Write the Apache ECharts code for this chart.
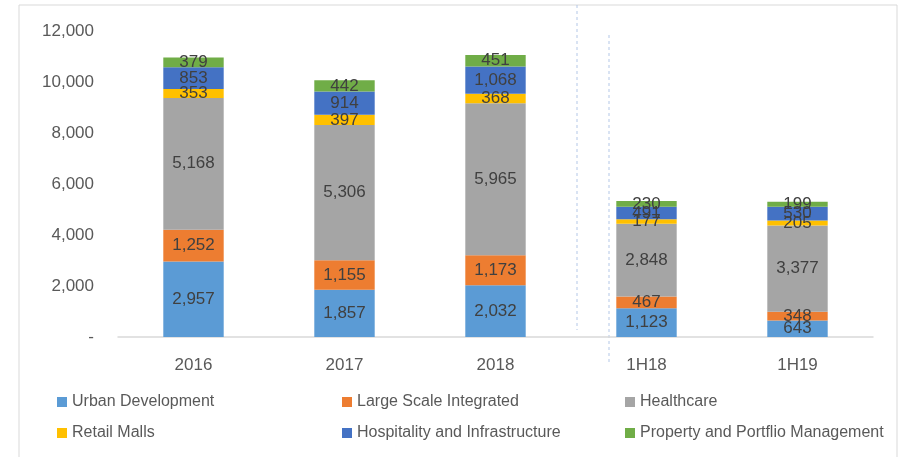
<!DOCTYPE html>
<html>
<head>
<meta charset="utf-8">
<script src="https://cdn.jsdelivr.net/npm/echarts@6/dist/echarts.min.js"></script>
<style>
  html, body { margin: 0; padding: 0; background: #fff; }
  #chart { width: 911px; height: 457px; }
</style>
</head>
<body>
<div id="chart"></div>
<script>
const categories = ['2016', '2017', '2018', '1H18', '1H19']
const urbanDevelopment = [2957, 1857, 2032, 1123, 643]
const largeScaleIntegrated = [1252, 1155, 1173, 467, 348]
const healthcare = [5168, 5306, 5965, 2848, 3377]
const retailMalls = [353, 397, 368, 177, 205]
const hospitality = [853, 914, 1068, 491, 530]
const propertyMgmt = [379, 442, 451, 230, 199]
const yTicks = [0, 2000, 4000, 6000, 8000, 10000, 12000]

const fontFamily = 'Liberation Sans, sans-serif'
const fmt = (v) => v === 0 ? '-' : v.toLocaleString('en-US')

function makeSeries(name, data, color) {
  return {
    name,
    type: 'bar',
    stack: 'total',
    data,
    barWidth: '40%',
    itemStyle: { color },
    label: {
      show: true,
      position: 'inside',
      color: '#404040',
      fontSize: 17,
      fontFamily,
      formatter: (p) => fmt(p.value)
    }
  }
}

const chart = echarts.init(document.getElementById('chart'), null, { renderer: 'canvas' })

const legendBase = {
  orient: 'vertical',
  top: 389,
  itemWidth: 10,
  itemHeight: 10,
  itemGap: 15,
  icon: 'rect',
  textStyle: { color: '#595959', fontSize: 16, fontFamily }
}

chart.setOption({
  animation: false,
  grid: { left: 118, right: 38, top: 31, bottom: 120 },
  legend: [
    { ...legendBase, left: 52, data: ['Urban Development', 'Retail Malls'] },
    { ...legendBase, left: 337, data: ['Large Scale Integrated', 'Hospitality and Infrastructure'] },
    { ...legendBase, left: 620, data: ['Healthcare', 'Property and Portflio Management'] }
  ],
  xAxis: {
    type: 'category',
    data: categories,
    axisLine: { lineStyle: { color: '#d9d9d9', width: 1.5 } },
    axisTick: { show: false },
    axisLabel: { color: '#595959', fontSize: 17, fontFamily, margin: 20 }
  },
  yAxis: {
    type: 'value',
    min: yTicks[0],
    max: yTicks[yTicks.length - 1],
    interval: 2000,
    splitLine: { show: false },
    axisLine: { show: false },
    axisTick: { show: false },
    axisLabel: { color: '#595959', fontSize: 17, fontFamily, margin: 24, formatter: fmt }
  },
  graphic: [
    {
      type: 'rect',
      shape: { x: 19, y: 5, width: 878, height: 470 },
      style: { fill: 'none', stroke: '#d9d9d9', lineWidth: 1 },
      silent: true
    },
    {
      type: 'line',
      shape: { x1: 577, y1: 5, x2: 577, y2: 330 },
      style: { stroke: '#b4c7e7', lineWidth: 1, lineDash: [3, 3] },
      silent: true
    },
    {
      type: 'line',
      shape: { x1: 609, y1: 35, x2: 609, y2: 362 },
      style: { stroke: '#b4c7e7', lineWidth: 1, lineDash: [3, 3] },
      silent: true
    }
  ],
  series: [
    makeSeries('Urban Development', urbanDevelopment, '#5b9bd5'),
    makeSeries('Large Scale Integrated', largeScaleIntegrated, '#ed7d31'),
    makeSeries('Healthcare', healthcare, '#a5a5a5'),
    makeSeries('Retail Malls', retailMalls, '#ffc000'),
    makeSeries('Hospitality and Infrastructure', hospitality, '#4472c4'),
    makeSeries('Property and Portflio Management', propertyMgmt, '#70ad47')
  ]
})
</script>
</body>
</html>
